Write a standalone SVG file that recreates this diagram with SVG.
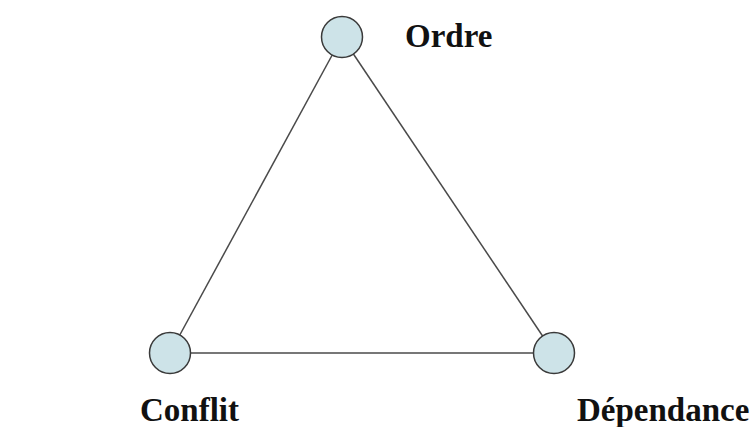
<svg xmlns="http://www.w3.org/2000/svg" width="755" height="427" viewBox="0 0 755 427">
<style>
.edge{stroke:#4a4a4a;stroke-width:1.5;fill:none}
.node{fill:#cde3e8;stroke:#3a3a3a;stroke-width:1.5}
.lbl{font-family:"Liberation Serif","Times New Roman",serif;font-weight:bold;font-size:33px;fill:#111}
</style>
<rect width="755" height="427" fill="#ffffff"/>
<g id="connectors">
<line class="edge" x1="342" y1="37" x2="170" y2="353"/>
<line class="edge" x1="342" y1="37" x2="554" y2="353"/>
<line class="edge" x1="170" y1="353" x2="554" y2="353"/>
</g>
<g id="ordre">
<circle class="node" cx="342" cy="37" r="20.5"/>
<text class="lbl" x="405" y="47">Ordre</text>
</g>
<g id="conflit">
<circle class="node" cx="170" cy="353" r="20.5"/>
<text class="lbl" x="140" y="421">Conflit</text>
</g>
<g id="dependance">
<circle class="node" cx="554" cy="353" r="20.5"/>
<text class="lbl" x="577" y="421">Dépendance</text>
</g>
</svg>
